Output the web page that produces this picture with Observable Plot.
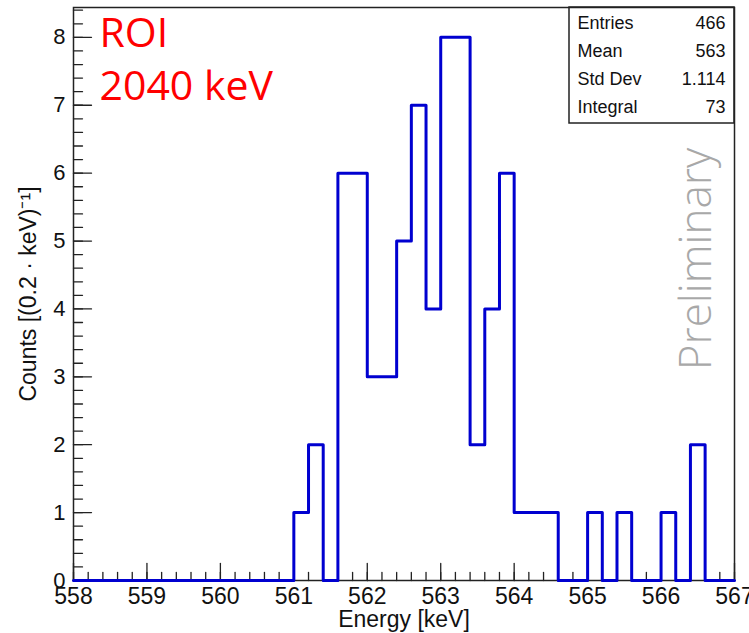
<!DOCTYPE html>
<html><head><meta charset="utf-8">
<script src="https://cdn.jsdelivr.net/npm/d3@7"></script>
<script src="https://cdn.jsdelivr.net/npm/@observablehq/plot@0.6"></script>
<style>body{margin:0;background:#fff}</style>
</head><body><div id="chart"></div>
<script>
// Histogram: 0.2 keV bins from 558 to 567 keV
const binStart = 558;
const binWidth = 0.2;
const counts = [0,0,0,0,0,0,0,0,0,0,0,0,0,0,0,
                1,2,0,6,6,3,3,5,7,4,
                8,8,2,4,6,1,1,1,0,0,
                1,0,1,0,0,1,0,2,0,0];
const xTickLabels = [558,559,560,561,562,563,564,565,566,567];
const yTickLabels = [0,1,2,3,4,5,6,7,8];
const statLabels = ["Entries","Mean","Std Dev","Integral"];
const statValues = ["466","563","1.114","73"];
const roiLines = ["ROI","2040 keV"];
const watermark = "Preliminary";
const xTitle = "Energy [keV]";
const yTitle = "Counts [(0.2 \u00b7 keV)\u207b\u00b9]";

const steps = counts.map((c, i) => ({x: binStart + i * binWidth, y: c}));
steps.push({x: binStart + counts.length * binWidth, y: 0});
const minorX = d3.range(0, 46).map(i => 558 + i * 0.2);
const minorY = d3.range(0, 43).map(i => i * 0.2);

const tickShape = {draw(ctx, l) { ctx.moveTo(0, 0); ctx.lineTo(0, -l); }};
const axisColor = "#222";
const font = "'Liberation Sans', Arial, Helvetica, sans-serif";

const W = 749, H = 633, mL = 73, mR = 15, mT = 7, mB = 53;

const plot = Plot.plot({
  width: W, height: H,
  marginLeft: mL, marginRight: mR, marginTop: mT, marginBottom: mB,
  style: {fontFamily: font, background: "#fff", overflow: "visible"},
  x: {domain: [558, 567], axis: null},
  y: {domain: [0, 8.44], axis: null},
  marks: [
    Plot.vector(minorX, {x: d => d, frameAnchor: "bottom", rotate: 0, length: 8, anchor: "start", shape: tickShape, stroke: axisColor, strokeWidth: 1.3}),
    Plot.vector(xTickLabels, {x: d => d, frameAnchor: "bottom", rotate: 0, length: 17, anchor: "start", shape: tickShape, stroke: axisColor, strokeWidth: 1.3}),
    Plot.vector(minorY, {y: d => d, frameAnchor: "left", rotate: 90, length: 9, anchor: "start", shape: tickShape, stroke: axisColor, strokeWidth: 1.3}),
    Plot.vector(yTickLabels, {y: d => d, frameAnchor: "left", rotate: 90, length: 18, anchor: "start", shape: tickShape, stroke: axisColor, strokeWidth: 1.3}),
    Plot.frame({stroke: axisColor, strokeWidth: 1.5}),
    Plot.line(steps, {x: "x", y: "y", curve: "step-after", stroke: "#0000d0", strokeWidth: 3}),
    Plot.text(xTickLabels, {x: d => d, text: d => String(d), frameAnchor: "bottom", lineAnchor: "top", dy: 7, fontSize: 23, fill: "#111"}),
    Plot.text(yTickLabels, {y: d => d, text: d => String(d), frameAnchor: "left", textAnchor: "end", lineAnchor: "middle", dx: -8, fontSize: 22, fill: "#111"}),
    Plot.text([xTitle], {text: d => d, frameAnchor: "bottom", textAnchor: "middle", lineAnchor: "middle", dy: 39, fontSize: 23, fill: "#111"}),
    Plot.text([yTitle], {text: d => d, frameAnchor: "left", textAnchor: "middle", lineAnchor: "middle", rotate: -90, dx: -45, fontSize: 23, fill: "#111"}),
    Plot.text([roiLines.join("\n")], {text: d => d, frameAnchor: "top-left", textAnchor: "start", lineAnchor: "top", dx: 26, dy: 3, fontSize: 41, lineHeight: 1.27, fill: "#ff0000", fontFamily: "'Open Sans', sans-serif"}),
    Plot.text([watermark], {text: d => d, frameAnchor: "right", textAnchor: "middle", lineAnchor: "middle", rotate: -90, dx: -38, dy: -35, fontSize: 44, fontWeight: 300, fill: "#a8a8a8", fontFamily: "'Open Sans', sans-serif"}),
    Plot.text([statLabels.join("\n")], {text: d => d, frameAnchor: "top-right", textAnchor: "start", lineAnchor: "top", dx: -157, dy: 2, fontSize: 18, lineHeight: 28 / 18, fill: "#111"}),
    Plot.text([statValues.join("\n")], {text: d => d, frameAnchor: "top-right", textAnchor: "end", lineAnchor: "top", dx: -9, dy: 2, fontSize: 18, lineHeight: 28 / 18, fill: "#111"})
  ]
});

// statistics box border
d3.select(plot).append("rect")
  .attr("x", W - mR - 165).attr("y", mT)
  .attr("width", 165).attr("height", 116)
  .attr("fill", "none").attr("stroke", axisColor).attr("stroke-width", 1.5);

document.getElementById("chart").appendChild(plot);
</script>
</body></html>
